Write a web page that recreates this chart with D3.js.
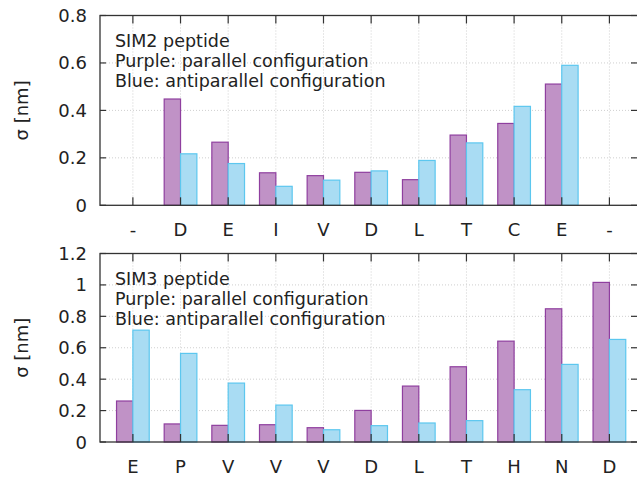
<!DOCTYPE html>
<html>
<head>
<meta charset="utf-8">
<script src="https://cdn.jsdelivr.net/npm/d3@7"></script>
<style>
  body { margin: 0; background: white; }
  text { font-family: "DejaVu Sans", sans-serif; }
</style>
</head>
<body>
<script>
// data
const sim2Labels = ["-", "D", "E", "I", "V", "D", "L", "T", "C", "E", "-"]
const sim2Parallel = [0, 0.448, 0.266, 0.137, 0.125, 0.139, 0.108, 0.296, 0.345, 0.511, 0]
const sim2Anti = [0, 0.217, 0.176, 0.080, 0.106, 0.145, 0.189, 0.263, 0.417, 0.590, 0]
const sim2Ticks = [0, 0.2, 0.4, 0.6, 0.8]

const sim3Labels = ["E", "P", "V", "V", "V", "D", "L", "T", "H", "N", "D"]
const sim3Parallel = [0.261, 0.115, 0.106, 0.110, 0.091, 0.201, 0.356, 0.479, 0.642, 0.848, 1.016]
const sim3Anti = [0.712, 0.564, 0.375, 0.235, 0.078, 0.104, 0.121, 0.136, 0.333, 0.494, 0.653]
const sim3Ticks = [0, 0.2, 0.4, 0.6, 0.8, 1, 1.2]

const series = ["par", "anti"]
const colors = {
    parFill: "#c092c6",
    parStroke: "#8f3f9f",
    antiFill: "#a9dcf3",
    antiStroke: "#5cc7ef",
    frame: "#333",
    grid: "#cfcfcf",
    text: "#222"
}
const [width, height] = [637, 479]
const [left, right] = [100, 638]

const svg = d3.select("body").append("svg")
    .attr("width", width)
    .attr("height", height)

const x = d3.scaleLinear().domain([-0.69, 10.6]).range([left, right])
const sub = d3.scaleBand().domain(series).range([-0.343, 0.343])

function panel(opts) {
    const y = d3.scaleLinear().domain([0, opts.max]).range([opts.bottom, opts.top])
    const g = svg.append("g")
    const idx = d3.range(opts.labels.length)

    // grid
    g.append("g").selectAll("line.h")
        .data(opts.ticks.slice(1, -1))
        .enter().append("line")
        .attr("x1", left).attr("x2", right)
        .attr("y1", d => y(d)).attr("y2", d => y(d))
        .attr("stroke", colors.grid).attr("stroke-dasharray", "1,2")
    g.append("g").selectAll("line.v")
        .data(idx)
        .enter().append("line")
        .attr("x1", d => x(d)).attr("x2", d => x(d))
        .attr("y1", opts.top).attr("y2", opts.bottom)
        .attr("stroke", colors.grid).attr("stroke-dasharray", "1,2")

    // bars
    const rows = idx.flatMap(i => [
        {i: i, s: "par", v: opts.par[i]},
        {i: i, s: "anti", v: opts.anti[i]}
    ]).filter(d => d.v > 0)
    g.append("g").selectAll("rect")
        .data(rows)
        .enter().append("rect")
        .attr("x", d => x(d.i + sub(d.s)))
        .attr("width", x(sub.bandwidth()) - x(0))
        .attr("y", d => y(d.v))
        .attr("height", d => y(0) - y(d.v))
        .attr("fill", d => d.s == "par" ? colors.parFill : colors.antiFill)
        .attr("stroke", d => d.s == "par" ? colors.parStroke : colors.antiStroke)
        .attr("stroke-width", 1.2)

    // frame
    g.append("rect")
        .attr("x", left).attr("y", opts.top)
        .attr("width", right - left).attr("height", opts.bottom - opts.top)
        .attr("fill", "none").attr("stroke", colors.frame).attr("stroke-width", 1.3)

    // ticks on all four sides, pointing inward
    const t = g.append("g").attr("stroke", colors.frame).attr("stroke-width", 1.2)
    opts.ticks.forEach(v => {
        t.append("line").attr("x1", left).attr("x2", left + 6).attr("y1", y(v)).attr("y2", y(v))
        t.append("line").attr("x1", right).attr("x2", right - 7).attr("y1", y(v)).attr("y2", y(v))
    })
    idx.forEach(i => {
        t.append("line").attr("x1", x(i)).attr("x2", x(i)).attr("y1", opts.top).attr("y2", opts.top + 8)
        t.append("line").attr("x1", x(i)).attr("x2", x(i)).attr("y1", opts.bottom).attr("y2", opts.bottom - 8)
    })

    // y tick labels
    g.append("g").selectAll("text")
        .data(opts.ticks)
        .enter().append("text")
        .attr("x", 87).attr("y", d => y(d) + 6.5)
        .attr("text-anchor", "end")
        .attr("font-size", 18).attr("fill", colors.text)
        .text(d => d3.format("~g")(d))

    // category labels
    g.append("g").selectAll("text")
        .data(idx)
        .enter().append("text")
        .attr("x", d => x(d)).attr("y", opts.bottom + 31)
        .attr("text-anchor", "middle")
        .attr("font-size", 18).attr("fill", colors.text)
        .text(d => opts.labels[d])

    // axis title
    const my = (opts.top + opts.bottom) / 2
    g.append("text")
        .attr("transform", `translate(28,${my}) rotate(-90)`)
        .attr("text-anchor", "middle")
        .attr("font-size", 18).attr("fill", colors.text)
        .text("σ [nm]")

    // annotation
    g.append("g").selectAll("text")
        .data(opts.note)
        .enter().append("text")
        .attr("x", 115).attr("y", (d, k) => opts.top + 31 + k * 20)
        .attr("font-size", 17.5).attr("fill", colors.text)
        .text(d => d)
}

panel({
    labels: sim2Labels, par: sim2Parallel, anti: sim2Anti, ticks: sim2Ticks,
    max: 0.8, top: 15.5, bottom: 205.3,
    note: ["SIM2 peptide", "Purple: parallel configuration", "Blue: antiparallel configuration"]
})
panel({
    labels: sim3Labels, par: sim3Parallel, anti: sim3Anti, ticks: sim3Ticks,
    max: 1.2, top: 253.5, bottom: 442,
    note: ["SIM3 peptide", "Purple: parallel configuration", "Blue: antiparallel configuration"]
})
</script>
</body>
</html>
